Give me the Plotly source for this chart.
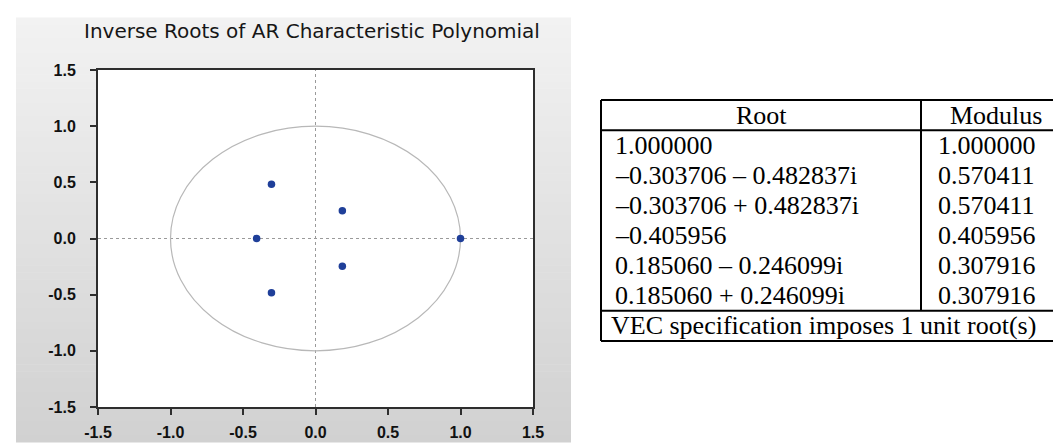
import plotly.graph_objects as go

# ---------------- data ----------------
root_re = [1.000000, -0.303706, -0.303706, -0.405956, 0.185060, 0.185060]
root_im = [0.000000, -0.482837, 0.482837, 0.000000, -0.246099, 0.246099]
modulus = [1.000000, 0.570411, 0.570411, 0.405956, 0.307916, 0.307916]
tick_vals = [-1.5, -1.0, -0.5, 0.0, 0.5, 1.0, 1.5]
tick_text = ["-1.5", "-1.0", "-0.5", "0.0", "0.5", "1.0", "1.5"]
axis_range = [-1.5, 1.5]
unit_radius = 1.0
title_text = "Inverse Roots of AR Characteristic Polynomial"
table_header = ["Root", "Modulus"]
table_note = "VEC specification imposes 1 unit root(s)"


def fmt_num(v):
    s = f"{abs(v):.6f}"
    return ("\u2013" + s) if v < 0 else s


def root_label(re, im):
    if im == 0:
        return fmt_num(re)
    sign = " \u2013 " if im < 0 else " + "
    return f"{fmt_num(re)}{sign}{abs(im):.6f}i"


root_labels = [root_label(r, i) for r, i in zip(root_re, root_im)]
mod_labels = [f"{m:.6f}" for m in modulus]

# ---------------- layout geometry (pixels) ----------------
W, H = 1061, 445
L, R_edge, T, B_edge = 90, 525, 62, 409
PW, PH = R_edge - L, B_edge - T


def px(x):
    return (x - L) / PW


def py(y):
    return (B_edge - y) / PH


shapes = []
# gradient panel background
n_bands = 60
y_top, y_bot = 8, 445
for k in range(n_bands):
    y0 = y_top + (y_bot - y_top) * k / n_bands
    y1 = y_top + (y_bot - y_top) * (k + 1) / n_bands + 0.6
    t = k / (n_bands - 1)
    g = round(242 - 33 * t)
    shapes.append(dict(type="rect", xref="paper", yref="paper",
                       x0=px(8), x1=px(563), y0=py(y1), y1=py(y0),
                       line=dict(width=0), fillcolor=f"rgb({g},{g},{g})",
                       layer="below"))
# white plot area
shapes.append(dict(type="rect", xref="paper", yref="paper", x0=0, x1=1, y0=0, y1=1,
                   line=dict(width=0), fillcolor="white", layer="below"))
# dotted zero lines
shapes.append(dict(type="line", xref="x", yref="paper", x0=0, x1=0, y0=0, y1=1,
                   line=dict(color="#9a9a9a", width=1, dash="dot"), layer="below"))
shapes.append(dict(type="line", xref="paper", yref="y", x0=0, x1=1, y0=0, y1=0,
                   line=dict(color="#9a9a9a", width=1, dash="dot"), layer="below"))
# unit circle
shapes.append(dict(type="circle", xref="x", yref="y",
                   x0=-unit_radius, x1=unit_radius, y0=-unit_radius, y1=unit_radius,
                   line=dict(color="#b8b8b8", width=1.2), layer="below"))

# table borders
tl, tr, tdiv = 593, 1063, 913
t_top, t_head, row_h = 93, 124, 31
n_rows = len(root_labels)
t_sep = t_head + n_rows * row_h
t_bot = t_sep + row_h
line_style = dict(color="black", width=2)
for (x0, y0, x1, y1) in [
    (tl, t_top, tr, t_top), (tl, t_head, tr, t_head), (tl, t_sep, tr, t_sep),
    (tl, t_bot, tr, t_bot), (tl, t_top, tl, t_bot),
    (tdiv, t_top, tdiv, t_sep)]:
    shapes.append(dict(type="line", xref="paper", yref="paper",
                       x0=px(x0), x1=px(x1), y0=py(y0), y1=py(y1), line=line_style))

annotations = [dict(text=title_text, xref="paper", yref="paper", x=px(304), y=py(22),
                    showarrow=False, xanchor="center", yanchor="middle",
                    font=dict(family="DejaVu Sans", size=20, color="#161616"))]

tfont = dict(family="Liberation Serif", size=26, color="black")
annotations.append(dict(text=table_header[0], xref="paper", yref="paper", x=px((tl + tdiv) / 2),
                        y=py((t_top + t_head) / 2), showarrow=False, xanchor="center",
                        yanchor="middle", font=tfont))
annotations.append(dict(text=table_header[1], xref="paper", yref="paper", x=px(988),
                        y=py((t_top + t_head) / 2), showarrow=False, xanchor="center",
                        yanchor="middle", font=tfont))
for i, (rl, ml) in enumerate(zip(root_labels, mod_labels)):
    yc = t_head + (i + 0.5) * row_h
    annotations.append(dict(text=rl, xref="paper", yref="paper", x=px(605), y=py(yc),
                            showarrow=False, xanchor="left", yanchor="middle", font=tfont))
    annotations.append(dict(text=ml, xref="paper", yref="paper", x=px(928), y=py(yc),
                            showarrow=False, xanchor="left", yanchor="middle", font=tfont))
annotations.append(dict(text=table_note, xref="paper", yref="paper", x=px(601),
                        y=py((t_sep + t_bot) / 2), showarrow=False, xanchor="left",
                        yanchor="middle", font=tfont))

fig = go.Figure()
fig.add_trace(go.Scatter(x=root_re, y=root_im, mode="markers",
                         marker=dict(color="#1f3f99", size=7.5, line=dict(width=0)),
                         showlegend=False, hoverinfo="x+y"))

axis_common = dict(range=axis_range, tickvals=tick_vals, ticktext=tick_text,
                   showgrid=False, zeroline=False, showline=True, mirror=True,
                   linecolor="#2e2e2e", linewidth=2, ticks="outside", ticklen=6,
                   tickwidth=1.5, tickcolor="#2e2e2e",
                   tickfont=dict(family="Liberation Sans", size=16, color="#111111", weight="bold"),
                   fixedrange=True)
fig.update_layout(
    width=W, height=H, autosize=False,
    margin=dict(l=L, r=W - R_edge, t=T, b=H - B_edge, pad=0),
    paper_bgcolor="white", plot_bgcolor="white",
    xaxis=dict(**axis_common, ticklabelstandoff=4),
    yaxis=dict(**axis_common, ticklabelstandoff=11),
    shapes=shapes, annotations=annotations,
)
fig.write_html("out.html")
